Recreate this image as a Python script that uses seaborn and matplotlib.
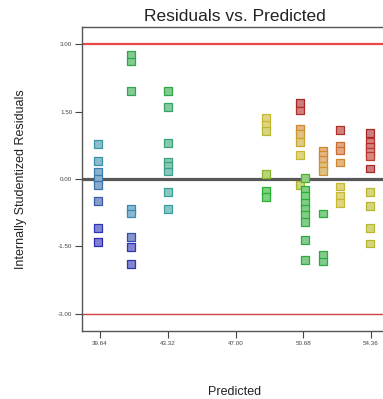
"""Residuals vs. Predicted 진단 플롯 재현."""
import matplotlib
matplotlib.use("Agg")
import matplotlib.pyplot as plt
from matplotlib.colors import LinearSegmentedColormap
import numpy as np
import pandas as pd
import seaborn as sns

# 예측값 그룹 (x 위치)
pred_levels = [39.53, 41.32, 43.33, 48.66, 50.50, 50.77, 51.75, 52.68, 54.31]

# 그룹별 내부 스튜던트화 잔차
residual_groups = [
    [0.78, 0.40, 0.16, 0.0, -0.13, -0.49, -1.09, -1.40],
    [2.76, 2.62, 1.96, -0.67, -0.76, -1.29, -1.51, -1.89],
    [1.96, 1.60, 0.80, 0.38, 0.29, 0.16, -0.29, -0.67],
    [1.36, 1.20, 1.07, 0.11, -0.27, -0.40],
    [1.69, 1.53, 1.13, 1.00, 0.82, 0.53, -0.13],
    [0.02, -0.24, -0.38, -0.53, -0.67, -0.80, -0.96, -1.36, -1.80],
    [0.64, 0.53, 0.42, 0.29, 0.18, -0.76, -1.69, -1.84],
    [1.09, 0.73, 0.64, 0.36, -0.16, -0.36, -0.53],
    [1.02, 0.82, 0.71, 0.60, 0.51, 0.24, -0.29, -0.60, -1.09, -1.44],
]

# 그룹별 실제 반응값 (점 색상)
actual_groups = [
    [41.0, 40.5, 39.5, 39.5, 39.0, 38.0, 36.5, 36.0],
    [46.5, 46.5, 46.0, 40.0, 40.0, 37.5, 36.5, 36.5],
    [46.5, 45.0, 44.0, 43.5, 43.5, 43.0, 42.5, 42.0],
    [51.0, 51.0, 50.5, 49.5, 48.0, 48.0],
    [55.5, 55.0, 52.5, 52.0, 51.5, 51.0, 50.0],
    [48.5, 48.0, 48.0, 47.5, 47.5, 47.5, 47.5, 47.0, 47.0],
    [52.5, 52.5, 52.5, 52.0, 52.0, 47.5, 47.0, 47.0],
    [55.0, 53.0, 53.0, 52.5, 51.0, 51.0, 51.0],
    [55.5, 55.0, 55.0, 54.5, 54.5, 55.5, 50.5, 50.5, 50.5, 50.5],
]

x_ticks = [39.64, 43.32, 47.00, 50.68, 54.36]
y_ticks = [-3.0, -1.5, 0.0, 1.5, 3.0]
limit = 3.0

rows = []
for p, res, act in zip(pred_levels, residual_groups, actual_groups):
    for r, a in zip(res, act):
        rows.append({"predicted": p, "residual": r, "actual": a})
df = pd.DataFrame(rows)

# 파랑 -> 청록 -> 초록 -> 노랑 -> 빨강
stops = [(36, "#2a2ab8"), (38, "#3a5aa8"), (40, "#3a8ab0"), (42, "#3aa0a0"),
         (44, "#3aa478"), (46.5, "#30a848"), (48, "#28b030"), (50, "#a8b828"),
         (51, "#c8b830"), (52.5, "#d08830"), (54, "#c84030"), (55.5, "#a82828")]
lo, hi = stops[0][0], stops[-1][0]
cmap = LinearSegmentedColormap.from_list(
    "resp", [((v - lo) / (hi - lo), c) for v, c in stops])

sns.set_style("white")
plt.rcParams["font.family"] = ["Liberation Sans", "DejaVu Sans"]

fig = plt.figure(figsize=(3.83, 3.99), dpi=100)
ax = fig.add_axes([82 / 383, 1 - 331 / 399, 306 / 383, 304 / 399])

ax.axhline(limit, color="#e84848", lw=1.6, zorder=1)
ax.axhline(-limit, color="#d04040", lw=1.0, zorder=1)
ax.axhline(0, color="#585858", lw=2.3, zorder=1)

sns.scatterplot(data=df, x="predicted", y="residual", hue="actual",
                palette=cmap, hue_norm=(lo, hi), marker="s", s=28,
                linewidth=0.9, legend=False, ax=ax, zorder=3)
coll = ax.collections[0]
fc = coll.get_facecolors().copy()
coll.set_edgecolor(fc.copy())
fc[:, :3] = fc[:, :3] * 0.6 + 0.4
coll.set_facecolor(fc)

ax.set_xlim(38.66, 55.28)
ax.set_ylim(-3.38, 3.38)
ax.set_xticks(x_ticks)
ax.set_xticklabels([f"{v:.2f}" for v in x_ticks])
ax.set_yticks(y_ticks)
ax.set_yticklabels([f"{v:.2f}" for v in y_ticks])
ax.tick_params(axis="both", labelsize=4.5, colors="#444444", direction="out",
               length=5, width=0.8, pad=2, left=True, bottom=True)
for s in ax.spines.values():
    s.set_color("#555555")
    s.set_linewidth(1.0)
ax.spines["right"].set_visible(False)

ax.set_title("Residuals vs. Predicted", fontsize=12.5, color="#222222", pad=4)
ax.set_xlabel("Predicted", fontsize=9, color="#222222", labelpad=29)
ax.set_ylabel("Internally Studentized Residuals", fontsize=9, color="#222222",
              labelpad=22)

fig.savefig("out.png", dpi=100)
plt.close(fig)
